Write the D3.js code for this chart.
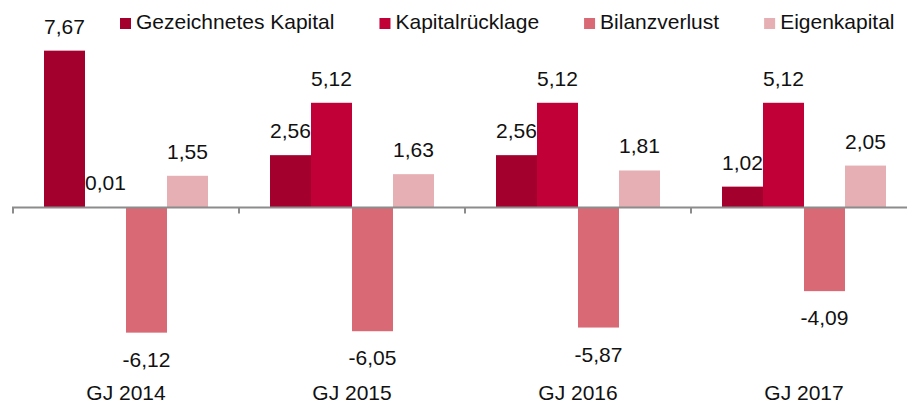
<!DOCTYPE html>
<html>
<head>
<meta charset="utf-8">
<script src="https://cdn.jsdelivr.net/npm/d3@7/dist/d3.min.js"></script>
<style>
  html, body { margin: 0; padding: 0; background: #fff; }
  svg { display: block; }
  text { font-family: "Liberation Sans", Arial, sans-serif; fill: #111; }
</style>
</head>
<body>
<svg id="chart" width="907" height="405"></svg>
<script>
const categories = ["GJ 2014", "GJ 2015", "GJ 2016", "GJ 2017"];
const seriesNames = ["Gezeichnetes Kapital", "Kapitalrücklage", "Bilanzverlust", "Eigenkapital"];
const gezeichnetesKapital = [7.67, 2.56, 2.56, 1.02];
const kapitalruecklage = [0.01, 5.12, 5.12, 5.12];
const bilanzverlust = [-6.12, -6.05, -5.87, -4.09];
const eigenkapital = [1.55, 1.63, 1.81, 2.05];
const colors = ["#A3002D", "#C00036", "#D96A75", "#E5AFB3"];

const seriesValues = [gezeichnetesKapital, kapitalruecklage, bilanzverlust, eigenkapital];

const svg = d3.select("#chart");
const fontSize = 21;

// scales
const x0 = d3.scaleBand().domain(categories).range([13, 13 + 226 * 4]).paddingInner(0).paddingOuter(0);
const x1 = d3.scaleBand().domain(seriesNames).range([31, 31 + 41 * 4]).padding(0);
const pxPerUnit = 20.45;
const zeroY = 207.5;
const y = d3.scaleLinear().domain([-7, 8]).range([zeroY + 7 * pxPerUnit, zeroY - 8 * pxPerUnit]);

const data = [];
categories.forEach((c, i) => {
  seriesNames.forEach((s, j) => {
    data.push({ cat: c, series: s, value: seriesValues[j][i], color: colors[j] });
  });
});

// bars
svg.append("g").selectAll("rect").data(data).join("rect")
  .attr("x", d => x0(d.cat) + x1(d.series))
  .attr("width", x1.bandwidth())
  .attr("y", d => y(Math.max(0, d.value)))
  .attr("height", d => Math.abs(y(d.value) - y(0)))
  .attr("fill", d => d.color);

// axis at zero
const axis = d3.axisBottom(x0).tickSize(6).tickFormat("");
const gAxis = svg.append("g").attr("transform", `translate(0,${y(0)})`).call(axis);
gAxis.select(".domain").remove();
gAxis.selectAll(".tick").remove();
gAxis.append("line").attr("x1", 12).attr("x2", 907).attr("y1", 0).attr("y2", 0)
  .attr("stroke", "#8C8C8C").attr("stroke-width", 2);
// boundary ticks
const boundaries = categories.map(c => x0(c));
gAxis.selectAll("line.tk").data(boundaries).join("line").attr("class", "tk")
  .attr("x1", d => d).attr("x2", d => d).attr("y1", 0).attr("y2", 6)
  .attr("stroke", "#8C8C8C").attr("stroke-width", 2);

// value labels
const fmt = v => d3.format(".2f")(v).replace(".", ",").replace("−", "-");
svg.append("g").selectAll("text").data(data).join("text")
  .attr("x", d => x0(d.cat) + x1(d.series) + x1.bandwidth() / 2)
  .attr("y", d => d.value >= 0 ? y(d.value) - 17 : y(d.value) + 34)
  .attr("text-anchor", "middle")
  .style("font-size", fontSize + "px")
  .text(d => fmt(d.value));

// category labels
svg.append("g").selectAll("text").data(categories).join("text")
  .attr("x", d => x0(d) + x0.bandwidth() / 2)
  .attr("y", 400)
  .attr("text-anchor", "middle")
  .style("font-size", fontSize + "px")
  .text(d => d);

// legend
const legend = svg.append("g");
let lx = 120;
seriesNames.forEach((s, j) => {
  const g = legend.append("g").attr("transform", `translate(${lx},0)`);
  g.append("rect").attr("x", 0).attr("y", 18).attr("width", 11).attr("height", 11).attr("fill", colors[j]);
  const t = g.append("text").attr("x", 16).attr("y", 29).style("font-size", fontSize + "px").text(s);
  const w = t.node().getComputedTextLength();
  lx += 16 + w + 45;
});
</script>
</body>
</html>
